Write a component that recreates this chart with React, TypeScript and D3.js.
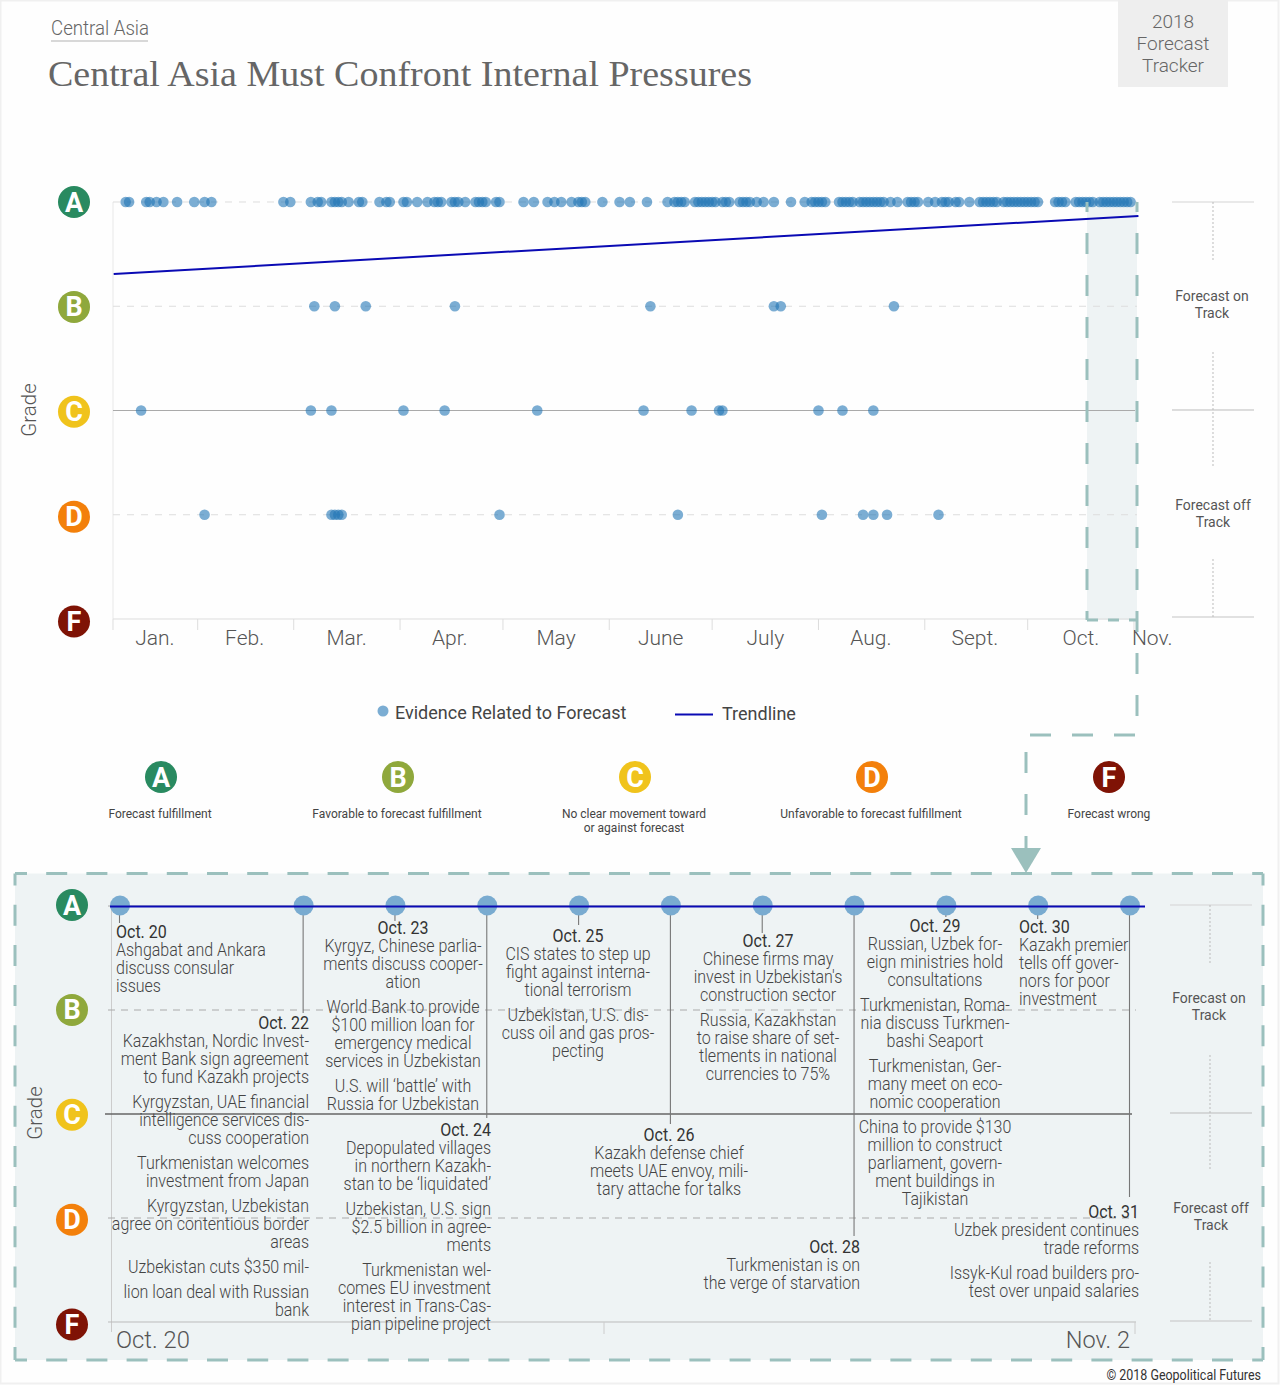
import React from 'react';
import * as d3 from 'd3';

// evidence dates as day of the year, one list per grade
const gradeADays = [11, 12, 17, 18, 20, 22, 26, 31, 34, 36, 57, 59, 65, 67, 68, 71, 72, 73, 74, 76, 79, 80, 85, 87, 88, 92, 93, 96, 99, 101, 102, 103, 106, 107, 108, 110, 113, 114, 115, 116, 119, 120, 127, 130, 134, 136, 138, 141, 143, 144, 145, 150, 155, 158, 163, 169, 171, 172, 173, 174, 177, 178, 179, 180, 181, 182, 183, 185, 186, 187, 190, 191, 192, 193, 195, 197, 200, 205, 209, 211, 212, 213, 214, 215, 219, 220, 221, 222, 223, 225, 226, 227, 228, 229, 230, 231, 232, 234, 236, 239, 240, 241, 242, 245, 247, 249, 250, 251, 253, 254, 257, 260, 261, 262, 263, 264, 265, 267, 268, 269, 270, 271, 272, 273, 274, 275, 276, 277, 282, 283, 284, 285, 288, 289, 290, 291, 292, 293, 295, 296, 297, 298, 299, 300, 301, 302, 303, 304];
const gradeBDays = [66, 72, 81, 107, 164, 200, 202, 235];
const gradeCDays = [15.5, 65, 71, 92, 104, 131, 162, 176, 184, 185, 213, 220, 229];
const gradeDDays = [34, 71, 72, 73, 74, 120, 172, 214, 226, 229, 233, 248];

const monthStarts = [32, 60, 91, 121, 152, 182, 213, 244, 274, 305];
const monthLabels = ['Jan.', 'Feb.', 'Mar.', 'Apr.', 'May', 'June', 'July', 'Aug.', 'Sept.', 'Oct.', 'Nov.'];
const monthLabelDays = [19.5, 45.7, 75.4, 105.5, 136.5, 167, 197.5, 228.3, 258.6, 289.5, 310.3];

const trendDays = [7.5, 306.3];
const trendGrades = [3.31, 3.866];

const grades = ['A', 'B', 'C', 'D', 'F'];
const gradeValues = [4, 3, 2, 1, 0];
const gradeColors = ['#298a60', '#8fa83c', '#f0c31c', '#f3800b', '#7f1305'];
const gradeMeanings = [
  ['Forecast fulfillment'],
  ['Favorable to forecast fulfillment'],
  ['No clear movement toward', 'or against forecast'],
  ['Unfavorable to forecast fulfillment'],
  ['Forecast wrong'],
];

const noteDays = [20, 22, 23, 24, 25, 26, 27, 28, 29, 30, 31];
const noteDates = ['Oct. 20', 'Oct. 22', 'Oct. 23', 'Oct. 24', 'Oct. 25', 'Oct. 26', 'Oct. 27', 'Oct. 28', 'Oct. 29', 'Oct. 30', 'Oct. 31'];
const noteTexts = [
  [['Ashgabat and Ankara', 'discuss consular', 'issues']],
  [
    ['Kazakhstan, Nordic Invest-', 'ment Bank sign agreement', 'to fund Kazakh projects'],
    ['Kyrgyzstan, UAE financial', 'intelligence services dis-', 'cuss cooperation'],
    ['Turkmenistan welcomes', 'investment from Japan'],
    ['Kyrgyzstan, Uzbekistan', 'agree on contentious border', 'areas'],
    ['Uzbekistan cuts $350 mil-'],
    ['lion loan deal with Russian', 'bank'],
  ],
  [
    ['Kyrgyz, Chinese parlia-', 'ments discuss cooper-', 'ation'],
    ['World Bank to provide', '$100 million loan  for', 'emergency medical', 'services in Uzbekistan'],
    ['U.S. will ‘battle’ with', 'Russia for Uzbekistan'],
  ],
  [
    ['Depopulated villages', 'in northern Kazakh-', 'stan to be ‘liquidated’'],
    ['Uzbekistan, U.S. sign', '$2.5 billion in agree-', 'ments'],
    ['Turkmenistan wel-', 'comes EU investment', 'interest in Trans-Cas-', 'pian pipeline project'],
  ],
  [
    ['CIS states to step up', 'fight against interna-', 'tional terrorism'],
    ['Uzbekistan, U.S. dis-', 'cuss oil and gas pros-', 'pecting'],
  ],
  [['Kazakh defense chief', 'meets UAE envoy, mili-', 'tary attache for talks']],
  [
    ['Chinese firms may', 'invest in Uzbekistan\'s', 'construction sector'],
    ['Russia, Kazakhstan', 'to raise share of set-', 'tlements in national', 'currencies to 75%'],
  ],
  [['Turkmenistan is on', 'the verge of starvation']],
  [
    ['Russian, Uzbek for-', 'eign ministries hold', 'consultations'],
    ['Turkmenistan, Roma-', 'nia discuss Turkmen-', 'bashi Seaport'],
    ['Turkmenistan, Ger-', 'many meet on eco-', 'nomic cooperation'],
    ['China to provide $130', 'million to construct', 'parliament, govern-', 'ment buildings in', 'Tajikistan'],
  ],
  [['Kazakh premier', 'tells off gover-', 'nors for poor', 'investment']],
  [
    ['Uzbek president continues', 'trade reforms'],
    ['Issyk-Kul road builders pro-', 'test over unpaid salaries'],
  ],
];

// where each note sits in the lower panel
const noteLayout = [
  { anchor: 'start', x: 116, stem: 923, dateY: 938, blocks: [956] },
  { anchor: 'end', x: 309, stem: 1013, dateY: 1029, blocks: [1047, 1108, 1169, 1212, 1273, 1298] },
  { anchor: 'middle', x: 403, stem: 921, dateY: 934, blocks: [952, 1013, 1092] },
  { anchor: 'end', x: 491, stem: 1118, dateY: 1136, blocks: [1154, 1215, 1276] },
  { anchor: 'middle', x: 578, stem: 925, dateY: 942, blocks: [960, 1021] },
  { anchor: 'middle', x: 669, stem: 1124, dateY: 1141, blocks: [1159] },
  { anchor: 'middle', x: 768, stem: 933, dateY: 947, blocks: [965, 1026] },
  { anchor: 'end', x: 860, stem: 1236, dateY: 1253, blocks: [1271] },
  { anchor: 'middle', x: 935, stem: 917, dateY: 932, blocks: [950, 1011, 1072, 1133] },
  { anchor: 'start', x: 1019, stem: 919, dateY: 933, blocks: [951] },
  { anchor: 'end', x: 1139, stem: 1197, dateY: 1218, blocks: [1236, 1279] },
];

const ROBOTO = 'Roboto, sans-serif';
const TEAL = '#9bc0bd';
const PANEL = '#eef3f4';
const DOT = '#2377b5';
const ZOOM_DOT = '#79abd0';
const TREND = '#0a0ab4';

const x = d3.scaleLinear().domain([32, 305]).range([197.7, 1134]);
const y = d3.scaleLinear().domain([0, 4]).range([619, 202]);
const badgeY = d3.scaleLinear().domain([0, 4]).range([621.5, 202]);
const zoomX = d3.scaleLinear().domain([20, 31]).range([120, 1130]);
const zoomY = d3.scaleLinear().domain([0, 4]).range([1322, 906]);
const zoomBadgeY = d3.scaleLinear().domain([0, 4]).range([1324.5, 905]);

const trendLine = d3.line<number>()
  .x(d => x(d))
  .y((_, i) => y(trendGrades[i]));

// condensed text: no condensed face is installed, so squeeze it
const Squeezed: React.FC<any> = ({ x: tx, y: ty, k = 0.89, children, ...rest }) => (
  <text transform={`translate(${tx},${ty}) scale(${k},1)`} fontFamily={ROBOTO} {...rest}>
    {children}
  </text>
);

const GradeBadge: React.FC<{ cx: number; cy: number; i: number }> = ({ cx, cy, i }) => (
  <g>
    <circle cx={cx} cy={cy} r={16} fill={gradeColors[i]} />
    <text x={cx} y={cy + 9.5} textAnchor="middle" fontFamily={ROBOTO} fontWeight={700} fontSize={27} fill="#fff">
      {grades[i]}
    </text>
  </g>
);

const SidePanel: React.FC<{ left: number; mid: number; top: number; mid1: number; bottom: number; gaps: number[][]; labels: number[]; dx: number }> = ({ left, mid, top, mid1, bottom, gaps, labels, dx }) => (
  <g>
    <line x1={left} x2={left + 82} y1={top} y2={top} stroke="#d4d4d4" strokeWidth={1.2} />
    <line x1={left} x2={left + 82} y1={mid1} y2={mid1} stroke="#bbb" />
    <line x1={left} x2={left + 82} y1={bottom} y2={bottom} stroke="#c4c4c4" strokeWidth={1.2} />
    {gaps.map((g, i) => (
      <line key={i} x1={mid} x2={mid} y1={g[0]} y2={g[1]} stroke="#bbb" strokeDasharray="2 2" />
    ))}
    {['Forecast on', 'Track'].map((t, i) => (
      <text key={t} x={mid - 1} y={labels[0] + i * 16.5} textAnchor="middle" fontFamily={ROBOTO} fontSize={14} fill="#555">{t}</text>
    ))}
    {['Forecast off', 'Track'].map((t, i) => (
      <text key={t} x={mid + dx} y={labels[1] + i * 16.5} textAnchor="middle" fontFamily={ROBOTO} fontSize={14} fill="#555">{t}</text>
    ))}
  </g>
);

export default function App() {
  const rows = [gradeADays, gradeBDays, gradeCDays, gradeDDays];
  return (
    <svg width={1280} height={1385} style={{ position: 'absolute', left: 0, top: 0 }}>
      <rect x={0.5} y={0.5} width={1278} height={1383} fill="#fefefe" stroke="#f0f0f0" strokeWidth={2} />

      {/* header */}
      <Squeezed x={51} y={35} fontSize={21} fontWeight={300} fill="#666">Central Asia</Squeezed>
      <rect x={51} y={40} width={97} height={2} fill="#d8d8d8" />
      <text x={48} y={86} fontFamily="'Liberation Serif', serif" fontSize={35} fill="#666" textLength={704} lengthAdjust="spacingAndGlyphs">
        Central Asia Must Confront Internal Pressures
      </text>
      <rect x={1118} y={0} width={110} height={87} fill="#eeeeee" />
      {['2018', 'Forecast', 'Tracker'].map((t, i) => (
        <text key={t} x={1173} y={28 + i * 22} textAnchor="middle" fontFamily={ROBOTO} fontWeight={300} fontSize={19} fill="#666">{t}</text>
      ))}

      {/* upper chart */}
      <rect x={1087} y={202} width={50} height={418} fill={PANEL} />
      <line x1={113} x2={113} y1={202} y2={619} stroke="#e8e8e8" />
      {gradeValues.map(g => (
        <line
          key={g}
          x1={113}
          x2={g === 2 ? 1135 : 1137}
          y1={y(g)}
          y2={y(g)}
          stroke={g === 2 ? '#aaa' : '#ddd'}
          strokeDasharray={g === 2 || g === 0 ? undefined : '7 7'}
        />
      ))}
      {[x.invert(113), ...monthStarts].map(d => (
        <line key={d} x1={x(d)} x2={x(d)} y1={619} y2={630} stroke="#ddd" />
      ))}
      {monthLabels.map((m, i) => (
        <text key={m} x={x(monthLabelDays[i])} y={645} textAnchor="middle" fontFamily={ROBOTO} fontSize={21} fontWeight={300} fill="#555">{m}</text>
      ))}
      <text transform="translate(36,410) rotate(-90)" textAnchor="middle" fontFamily={ROBOTO} fontWeight={300} fontSize={20.5} fill="#555">Grade</text>

      {rows.map((days, r) =>
        days.map((d, i) => (
          <circle key={`${r}-${i}`} cx={x(d)} cy={y(gradeValues[r])} r={5.3} fill={DOT} fillOpacity={0.6} />
        ))
      )}
      <path d={trendLine(trendDays) ?? ''} fill="none" stroke={TREND} strokeWidth={2} />

      {/* callout from the highlighted weeks to the lower panel */}
      <path d="M1087,202 V620" fill="none" stroke={TEAL} strokeWidth={3} strokeDasharray="21 21" strokeDashoffset={11} />
      <path d="M1087,620 H1137" fill="none" stroke={TEAL} strokeWidth={3} strokeDasharray="11 10" />
      <path d="M1137,202 V735 H1026 V848" fill="none" stroke={TEAL} strokeWidth={3} strokeDasharray="21 21" strokeDashoffset={11} />
      <path d="M1011,848 H1041 L1026,873 Z" fill={TEAL} />

      {grades.map((_, i) => <GradeBadge key={i} cx={74} cy={badgeY(gradeValues[i])} i={i} />)}
      <SidePanel left={1172} mid={1213} top={202} mid1={410} bottom={617} gaps={[[202, 260], [352, 467], [559, 617]]} labels={[301, 510]} dx={0} />

      {/* legend */}
      <circle cx={383} cy={711} r={5.5} fill={DOT} fillOpacity={0.6} />
      <text x={395} y={719} fontFamily={ROBOTO} fontSize={18} fill="#444">Evidence Related to Forecast</text>
      <line x1={675} x2={713} y1={714.5} y2={714.5} stroke={TREND} strokeWidth={2} />
      <text x={722} y={720} fontFamily={ROBOTO} fontSize={18} fill="#444">Trendline</text>

      {grades.map((_, i) => {
        const cx = 161 + i * 237;
        return (
          <g key={i}>
            <GradeBadge cx={cx} cy={777} i={i} />
            {gradeMeanings[i].map((t, j) => (
              <text key={t} x={cx - 1 + (i === 4 ? 1 : 0)} y={818 + j * 14} textAnchor="middle" fontFamily={ROBOTO} fontSize={12} fill="#444">{t}</text>
            ))}
          </g>
        );
      })}

      {/* lower panel */}
      <rect x={15} y={873.5} width={1248} height={486.5} fill={PANEL} />
      <path
        d="M15,873.5 H1263 M15,873.5 V1360 M1263,873.5 V1360 M15,1360 H1263"
        fill="none"
        stroke={TEAL}
        strokeWidth={3}
        strokeDasharray="21 19.2"
        strokeDashoffset={9}
      />
      <line x1={111.5} x2={111.5} y1={906} y2={1332} stroke="#ccc" />
      {gradeValues.map(g => (
        <line
          key={g}
          x1={g === 2 ? 105 : 108}
          x2={g === 2 ? 1132 : 1136}
          y1={zoomY(g)}
          y2={zoomY(g)}
          stroke={g === 2 ? '#666' : g === 0 ? '#bbb' : '#aaa'}
          strokeWidth={g === 2 ? 1.5 : 1}
          strokeDasharray={g === 3 || g === 1 ? '7 6' : undefined}
        />
      ))}
      {[604, 1135].map(px => (
        <line key={px} x1={px} x2={px} y1={1322} y2={1334} stroke="#ccc" />
      ))}
      <Squeezed x={116} y={1348} k={0.99} fontSize={24} fontWeight={300} fill="#555">Oct. 20</Squeezed>
      <Squeezed x={1130} y={1348} k={0.98} textAnchor="end" fontSize={24} fontWeight={300} fill="#555">Nov. 2</Squeezed>
      <text transform="translate(42,1113) rotate(-90)" textAnchor="middle" fontFamily={ROBOTO} fontWeight={300} fontSize={20.5} fill="#555">Grade</text>

      {noteDays.map((d, i) => (
        <line key={d} x1={zoomX(d) - 0.5} x2={zoomX(d) - 0.5} y1={906} y2={noteLayout[i].stem} stroke="#777" strokeWidth={1.1} />
      ))}
      {noteDays.map(d => (
        <circle key={d} cx={zoomX(d)} cy={905.5} r={10} fill={ZOOM_DOT} />
      ))}
      <line x1={110} x2={1145} y1={906.5} y2={906.5} stroke={TREND} strokeWidth={2.2} />

      {noteDays.map((d, i) => {
        const l = noteLayout[i];
        return (
          <g key={d}>
            <Squeezed x={l.x} y={l.dateY} textAnchor={l.anchor} fontSize={18} fontWeight={400} fill="#333">{noteDates[i]}</Squeezed>
            {noteTexts[i].map((block, b) =>
              block.map((t, j) => (
                <Squeezed key={`${b}-${j}`} x={l.x} y={l.blocks[b] + j * 18} textAnchor={l.anchor} fontSize={18} fontWeight={300} fill="#444">{t}</Squeezed>
              ))
            )}
          </g>
        );
      })}

      {grades.map((_, i) => <GradeBadge key={i} cx={72} cy={zoomBadgeY(gradeValues[i])} i={i} />)}
      <SidePanel left={1170} mid={1210} top={905} mid1={1113} bottom={1321} gaps={[[905, 963], [1055, 1171], [1262, 1321]]} labels={[1003, 1213]} dx={1} />

      <Squeezed x={1261} y={1380} textAnchor="end" fontSize={14} fill="#333">© 2018 Geopolitical Futures</Squeezed>
    </svg>
  );
}
